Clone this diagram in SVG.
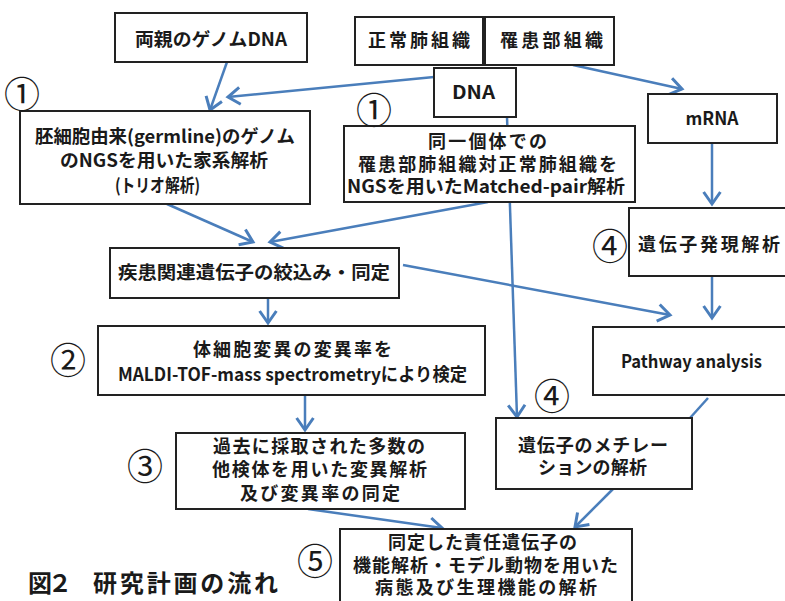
<svg xmlns="http://www.w3.org/2000/svg" width="785" height="601" viewBox="0 0 785 601">
<defs>
<style>
.box{fill:#fff;stroke:#222;stroke-width:2}
.t{font-family:"Noto Sans CJK JP","Noto Sans",sans-serif;font-weight:bold;font-size:18px;fill:#1a1a1a;text-anchor:middle}
.n{font-family:"Noto Sans CJK JP","Noto Sans",sans-serif;font-weight:normal;font-size:36px;fill:#1a1a1a;text-anchor:middle}
.title{font-family:"Noto Sans CJK JP","Noto Sans",sans-serif;font-weight:bold;font-size:24px;fill:#1a1a1a}
.c{fill:none;stroke:#4a7ebb;stroke-width:2.5}
</style>
<marker id="arr" markerUnits="userSpaceOnUse" markerWidth="24" markerHeight="24" viewBox="-14 -10 18 20" refX="0" refY="0" orient="auto" overflow="visible">
<path d="M-10,-7 L0,0 L-10,7" fill="none" stroke="#4a7ebb" stroke-width="2.5"/>
</marker>
</defs>
<rect width="785" height="601" fill="#fff"/>
<g id="connectors">
<line class="c" x1="227" y1="62" x2="210" y2="110" marker-end="url(#arr)"/>
<line class="c" x1="434" y1="77" x2="228" y2="97" marker-end="url(#arr)"/>
<line class="c" x1="507" y1="117" x2="517" y2="417" marker-end="url(#arr)"/>
<line class="c" x1="573" y1="65" x2="682" y2="89" marker-end="url(#arr)"/>
<line class="c" x1="712" y1="143" x2="712" y2="204" marker-end="url(#arr)"/>
<line class="c" x1="167" y1="204" x2="253" y2="242" marker-end="url(#arr)"/>
<line class="c" x1="488" y1="202" x2="270" y2="242" marker-end="url(#arr)"/>
<line class="c" x1="268" y1="298" x2="268" y2="323" marker-end="url(#arr)"/>
<line class="c" x1="403" y1="265" x2="670" y2="315" marker-end="url(#arr)"/>
<line class="c" x1="712" y1="276" x2="712" y2="318" marker-end="url(#arr)"/>
<line class="c" x1="305" y1="396" x2="305" y2="430" marker-end="url(#arr)"/>
<line class="c" x1="308" y1="509" x2="442" y2="528" marker-end="url(#arr)"/>
<line class="c" x1="708" y1="398" x2="690" y2="418"/>
<line class="c" x1="613" y1="489" x2="575" y2="527" marker-end="url(#arr)"/>
</g>
<g id="parents">
<rect class="box" x="115" y="13" width="192" height="49"/>
<text class="t" x="211" y="46" textLength="152" lengthAdjust="spacingAndGlyphs">両親のゲノムDNA</text>
</g>
<g id="normal">
<rect class="box" x="355" y="17" width="128" height="48"/>
<text class="t" x="419" y="47" textLength="102" lengthAdjust="spacing">正常肺組織</text>
</g>
<g id="affected">
<rect class="box" x="485" y="17" width="129" height="48"/>
<text class="t" x="551.5" y="47" textLength="103" lengthAdjust="spacing">罹患部組織</text>
</g>
<g id="dna">
<rect class="box" x="434" y="68" width="82" height="49"/>
<text class="t" x="473.5" y="99" textLength="43" lengthAdjust="spacingAndGlyphs">DNA</text>
</g>
<g id="mrna">
<rect class="box" x="648" y="94" width="129" height="49"/>
<text class="t" x="712" y="125" textLength="53" lengthAdjust="spacingAndGlyphs">mRNA</text>
</g>
<g id="germline">
<rect class="box" x="20" y="111" width="290" height="93"/>
<text class="t" x="165" y="143" textLength="260" lengthAdjust="spacingAndGlyphs">胚細胞由来(germline)のゲノム</text>
<text class="t" x="164" y="167" textLength="208" lengthAdjust="spacingAndGlyphs">のNGSを用いた家系解析</text>
<text class="t" x="157.5" y="192" textLength="85" lengthAdjust="spacingAndGlyphs">(トリオ解析)</text>
</g>
<g id="matched">
<rect class="box" x="344" y="126" width="291" height="76"/>
<text class="t" x="487.5" y="148" textLength="119" lengthAdjust="spacing">同一個体での</text>
<text class="t" x="487.5" y="171" textLength="259" lengthAdjust="spacing">罹患部肺組織対正常肺組織を</text>
<text class="t" x="486" y="193" textLength="278" lengthAdjust="spacingAndGlyphs">NGSを用いたMatched-pair解析</text>
</g>
<g id="expression">
<rect class="box" x="629" y="208" width="170" height="68"/>
<text class="t" x="709" y="251" textLength="142" lengthAdjust="spacing">遺伝子発現解析</text>
</g>
<g id="narrow">
<rect class="box" x="110" y="248" width="289" height="50"/>
<text class="t" x="254" y="279" textLength="272" lengthAdjust="spacingAndGlyphs">疾患関連遺伝子の絞込み・同定</text>
</g>
<g id="pathway">
<rect class="box" x="593" y="327" width="206" height="68"/>
<text class="t" x="691.5" y="368" textLength="141" lengthAdjust="spacingAndGlyphs">Pathway analysis</text>
</g>
<g id="maldi">
<rect class="box" x="98" y="326" width="387" height="69"/>
<text class="t" x="292.5" y="356" textLength="199" lengthAdjust="spacing">体細胞変異の変異率を</text>
<text class="t" x="292.5" y="381" textLength="349" lengthAdjust="spacingAndGlyphs">MALDI-TOF-mass spectrometryにより検定</text>
</g>
<g id="past">
<rect class="box" x="176" y="433" width="289" height="76"/>
<text class="t" x="319" y="453" textLength="212" lengthAdjust="spacing">過去に採取された多数の</text>
<text class="t" x="319.5" y="476" textLength="215" lengthAdjust="spacing">他検体を用いた変異解析</text>
<text class="t" x="320" y="500" textLength="160" lengthAdjust="spacing">及び変異率の同定</text>
</g>
<g id="methylation">
<rect class="box" x="496" y="418" width="196" height="71"/>
<text class="t" x="593" y="452" textLength="150" lengthAdjust="spacing">遺伝子のメチレー</text>
<text class="t" x="592.5" y="474" textLength="109" lengthAdjust="spacing">ションの解析</text>
</g>
<g id="function">
<rect class="box" x="340" y="529" width="292" height="90"/>
<text class="t" x="482.5" y="549" textLength="189" lengthAdjust="spacing">同定した責任遺伝子の</text>
<text class="t" x="485.5" y="572" textLength="265" lengthAdjust="spacing">機能解析・モデル動物を用いた</text>
<text class="t" x="486" y="594" textLength="222" lengthAdjust="spacing">病態及び生理機能の解析</text>
</g>
<g id="labels">
<text class="n" x="22" y="108">①</text>
<text class="n" x="374" y="124">①</text>
<text class="n" x="68" y="374">②</text>
<text class="n" x="145" y="480">③</text>
<text class="n" x="610" y="260">④</text>
<text class="n" x="552" y="410">④</text>
<text class="n" x="315" y="575">⑤</text>
</g>
<g id="title">
<text class="title" y="592"><tspan x="28" textLength="44" lengthAdjust="spacing">図２</tspan><tspan x="93" textLength="185" lengthAdjust="spacing">研究計画の流れ</tspan></text>
</g>
</svg>
